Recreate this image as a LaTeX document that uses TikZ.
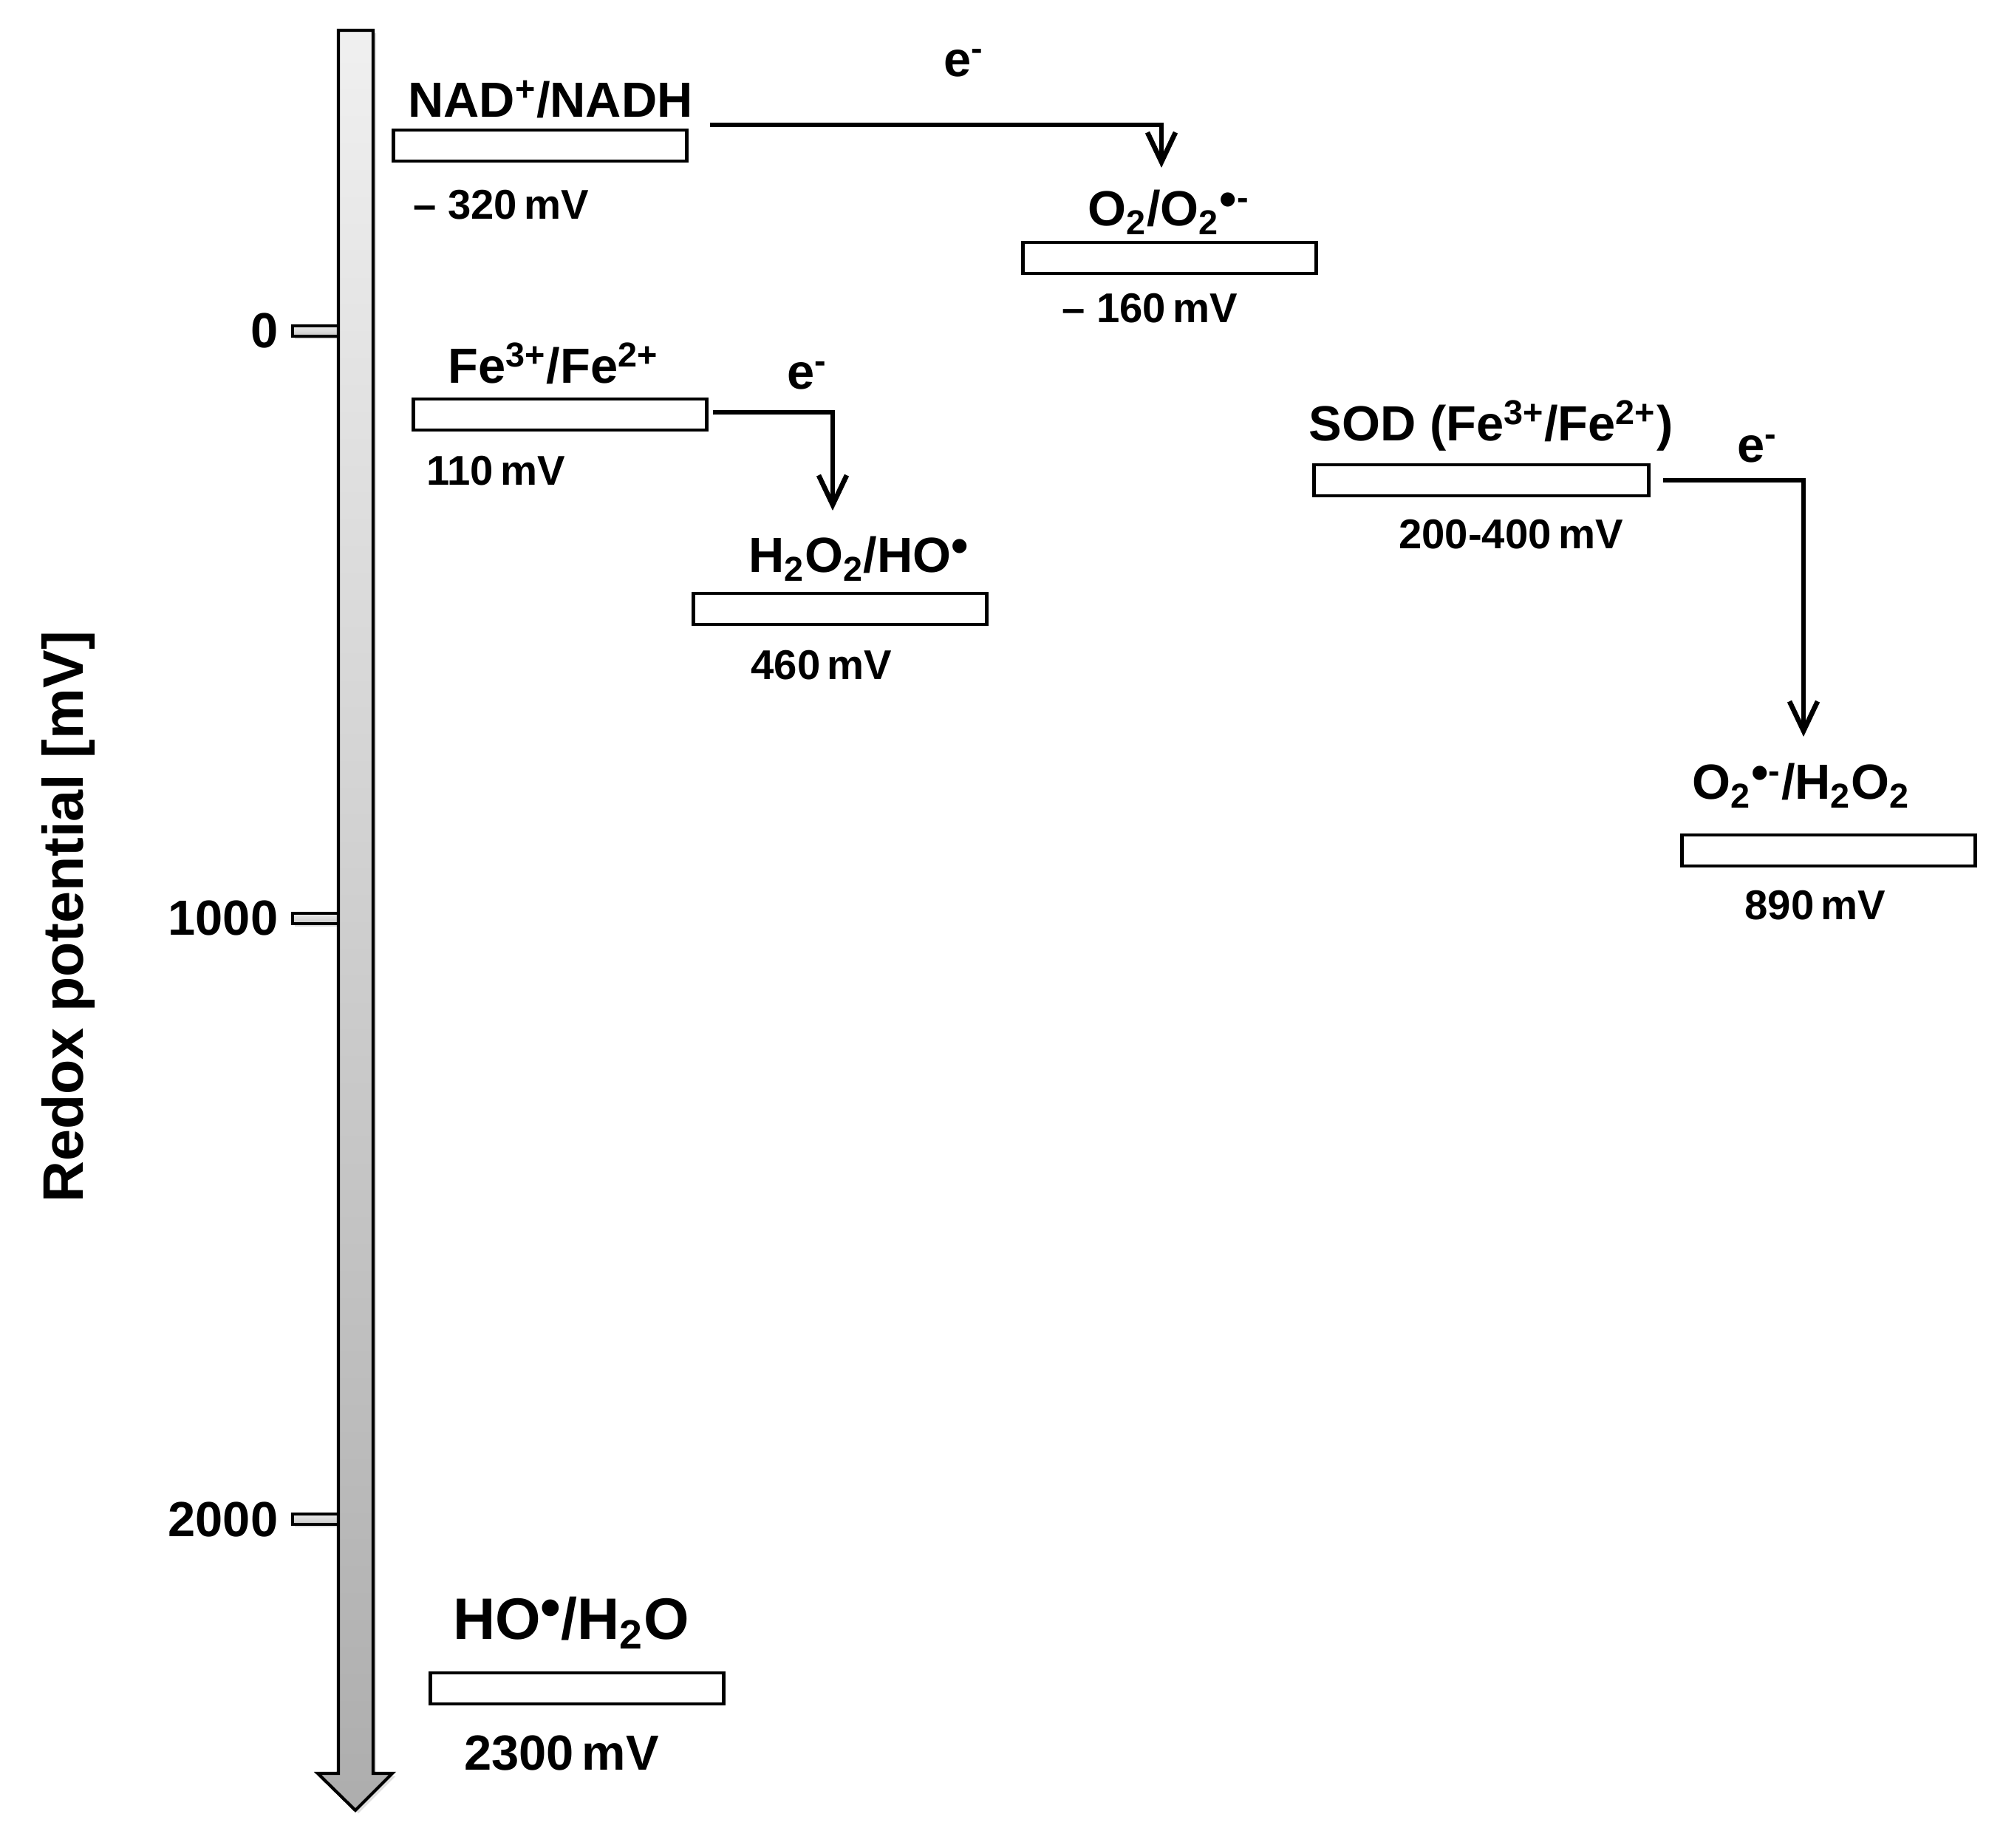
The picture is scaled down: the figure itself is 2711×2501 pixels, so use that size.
\documentclass[tikz,border=0pt]{standalone}
\usepackage{fontspec}
\setmainfont{Liberation Sans}
\usetikzlibrary{arrows.meta,calc,shadows}
\newcommand{\raddot}{\raisebox{0.2em}{•}}
\begin{document}
\begin{tikzpicture}[x=0.01cm,y=-0.01cm,
  lvl/.style={draw=black, line width=1.4pt, fill=white, minimum width=3.96cm, minimum height=0.42cm, inner sep=0, outer sep=0},
  lbl/.style={font=\fontsize{19}{22}\selectfont\bfseries, anchor=base, inner sep=0},
  val/.style={font=\fontsize{16}{19}\selectfont\bfseries, anchor=base, inner sep=0},
  biglbl/.style={font=\fontsize{22.5}{26}\selectfont\bfseries, anchor=base, inner sep=0},
  bigval/.style={font=\fontsize{19}{22}\selectfont\bfseries, anchor=base, inner sep=0},
  ticklbl/.style={font=\fontsize{19}{22}\selectfont\bfseries, anchor=east, inner sep=0},
  tickbar/.style={draw=black, line width=1.1pt, top color=black!8, bottom color=black!22,
     drop shadow={shadow xshift=0.03cm, shadow yshift=-0.04cm, opacity=0.25}},
  elarrow/.style={line width=1.9pt, -{Straight Barb[length=0.4cm,width=0.38cm,line width=1.9pt]}},
]
\useasboundingbox (0,0) rectangle (2711,2501);

% ticks
\path[tickbar] (396,441) rectangle (460,455);
\path[tickbar] (396,1236) rectangle (460,1250);
\path[tickbar] (396,2049) rectangle (460,2063);

% main axis arrow
\path[draw=black, line width=1.2pt, top color=black!6, bottom color=black!32,
      drop shadow={shadow xshift=0.04cm, shadow yshift=-0.04cm, opacity=0.25}]
  (458,41) -- (505,41) -- (505,2400) -- (531,2400) -- (481,2450) -- (430,2400) -- (458,2400) -- cycle;

% tick labels
\node[ticklbl] (t0) at (377,448) {0};
\node[ticklbl] (t1000) at (377,1243) {1000};
\node[ticklbl] (t2000) at (377,2056) {2000};

% axis title
\node[font=\fontsize{22}{26}\selectfont\bfseries, rotate=90, inner sep=0] (axtitle) at (92,1241) {Redox potential [mV]};

% NAD+/NADH
\node[lbl] (nadlbl) at (745,159) {NAD\textsuperscript{+}/NADH};
\node[lvl] (nadbox) at (731,197) {};
\node[val] (nadval) at (678,297) {– 320\,mV};

% O2/O2-
\node[lbl] (o2lbl) at (1582,306) {O\textsubscript{2}/O\textsubscript{2}\raddot\textsuperscript{-}};
\node[lvl] (o2box) at (1583,349) {};
\node[val] (o2val) at (1556,437) {– 160\,mV};

% Fe3+/Fe2+
\node[lbl] (felbl) at (749,519) {Fe\textsuperscript{3+}/Fe\textsuperscript{2+}};
\node[lvl] (febox) at (758,561) {};
\node[val] (feval) at (671,657) {110\,mV};

% H2O2/HO
\node[lbl] (h2o2lbl) at (1162,775) {H\textsubscript{2}O\textsubscript{2}/HO\raddot};
\node[lvl] (h2o2box) at (1137,824) {};
\node[val] (h2o2val) at (1112,920) {460\,mV};

% SOD
\node[lbl] (sodlbl) at (2018,597) {SOD (Fe\textsuperscript{3+}/Fe\textsuperscript{2+})};
\node[lvl, minimum width=4.53cm] (sodbox) at (2005,650) {};
\node[val] (sodval) at (2045,743) {200-400\,mV};

% O2-/H2O2
\node[lbl] (o2hlbl) at (2438,1082) {O\textsubscript{2}\raddot\textsuperscript{-}/H\textsubscript{2}O\textsubscript{2}};
\node[lvl] (o2hbox) at (2475,1151) {};
\node[val] (o2hval) at (2457,1245) {890\,mV};

% HO/H2O
\node[biglbl] (hololbl) at (773,2218) {HO\raddot/H\textsubscript{2}O};
\node[lvl] (holobox) at (781,2285) {};
\node[bigval] (holoval) at (760,2395) {2300\,mV};

% electron labels
\node[lbl] (e1) at (1305,104) {e\textsuperscript{-}};
\node[lbl] (e2) at (1093,527) {e\textsuperscript{-}};
\node[lbl] (e3) at (2379,626) {e\textsuperscript{-}};

% electron transfer arrows
\draw[elarrow] ($(nadbox.east)+(32,-28)$) -| ($(o2box.north)+(-11,-101)$);
\draw[elarrow] ($(febox.east)+(9,-3)$) -| ($(h2o2box.north)+(-10,-112)$);
\draw[elarrow] ($(sodbox.east)+(19,0)$) -| ($(o2hbox.north)+(-34,-133)$);
\end{tikzpicture}
\end{document}
